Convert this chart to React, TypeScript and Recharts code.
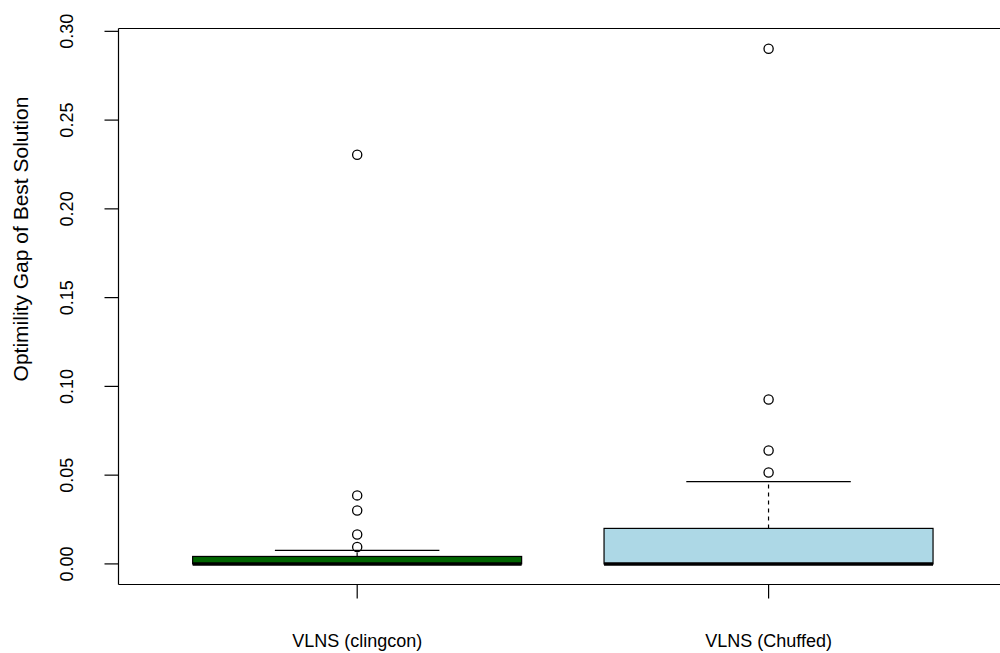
import React from "react";
import { ComposedChart, Bar, Line, XAxis, YAxis } from "recharts";

// group labels
const categories = ["VLNS (clingcon)", "VLNS (Chuffed)"];

// box statistics per group
const lowerWhisker = [0, 0];
const lowerQuartile = [0, 0];
const medians = [0, 0];
const upperQuartile = [0.0042, 0.02];
const upperWhisker = [0.0076, 0.0464];

// points beyond the whiskers
const clingconOutliers = [0.2305, 0.0386, 0.0301, 0.0166, 0.0095];
const chuffedOutliers = [0.2902, 0.0926, 0.0639, 0.0515];
const outliers = [clingconOutliers, chuffedOutliers];

const yTicks = [0, 0.05, 0.1, 0.15, 0.2, 0.25, 0.3];

const boxFills = ["#006400", "#ADD8E6"];
const FONT = "'Liberation Sans', Arial, Helvetica, sans-serif";

const maxOut = Math.max(...outliers.map((o) => o.length));
const outKeys = Array.from({ length: maxOut }, (_, i) => `o${i}`);

const data = categories.map((name, i) => {
  const row: any = {
    name,
    idx: i,
    lo: lowerWhisker[i],
    q1: lowerQuartile[i],
    med: medians[i],
    q3: upperQuartile[i],
    hi: upperWhisker[i],
    span: [
      Math.min(lowerWhisker[i], ...outliers[i]),
      Math.max(upperWhisker[i], ...outliers[i]),
    ],
  };
  outKeys.forEach((k, j) => {
    row[k] = outliers[i][j] ?? null;
  });
  return row;
});

function BoxShape(props: any) {
  const { x, y, width, height, payload } = props;
  const [lo, hi] = payload.span;
  const k = height / (hi - lo);
  const py = (v: number) => y + (hi - v) * k;
  const cx = x + width / 2;
  const cap = width / 4;
  return (
    <g>
      <line x1={cx} x2={cx} y1={py(payload.q3)} y2={py(payload.hi)} stroke="#000" strokeWidth={1.2} strokeDasharray="4 4" />
      <line x1={cx} x2={cx} y1={py(payload.q1)} y2={py(payload.lo)} stroke="#000" strokeWidth={1.2} strokeDasharray="4 4" />
      <line x1={cx - cap} x2={cx + cap} y1={py(payload.hi)} y2={py(payload.hi)} stroke="#000" strokeWidth={1.2} />
      <line x1={cx - cap} x2={cx + cap} y1={py(payload.lo)} y2={py(payload.lo)} stroke="#000" strokeWidth={1.2} />
      <rect
        x={x}
        y={py(payload.q3)}
        width={width}
        height={py(payload.q1) - py(payload.q3)}
        fill={boxFills[payload.idx]}
        stroke="#000"
        strokeWidth={1.2}
      />
      <line x1={x} x2={x + width} y1={py(payload.med)} y2={py(payload.med)} stroke="#000" strokeWidth={3.5} />
    </g>
  );
}

function YTick(props: any) {
  const { x, y, payload } = props;
  const tx = x - 35;
  return (
    <text
      x={tx}
      y={y}
      transform={`rotate(-90 ${tx} ${y})`}
      textAnchor="middle"
      dominantBaseline="central"
      fontFamily={FONT}
      fontSize={18}
      fill="#000"
    >
      {payload.value.toFixed(2)}
    </text>
  );
}

function XTick(props: any) {
  const { x, y, payload } = props;
  return (
    <text x={x} y={y + 46} textAnchor="middle" fontFamily={FONT} fontSize={18} fill="#000">
      {payload.value}
    </text>
  );
}

export default function App() {
  return (
    <div
      style={{
        position: "absolute",
        left: 0,
        top: 0,
        width: 1000,
        height: 653,
        overflow: "hidden",
        background: "#fff",
      }}
    >
      <ComposedChart
        width={1020}
        height={653}
        data={data}
        margin={{ top: 27.5, right: 12.7, bottom: 0, left: 0 }}
      >
        <XAxis
          xAxisId="b"
          dataKey="name"
          type="category"
          height={68.5}
          padding={{ left: 33, right: 33 }}
          interval={0}
          tickSize={14}
          tick={<XTick />}
          axisLine={{ stroke: "#000", strokeWidth: 1.2 }}
          tickLine={{ stroke: "#000", strokeWidth: 1.2 }}
        />
        <XAxis
          xAxisId="t"
          dataKey="name"
          orientation="top"
          height={1}
          tick={false}
          tickLine={false}
          axisLine={{ stroke: "#000", strokeWidth: 1.2 }}
        />
        <YAxis
          yAxisId="l"
          width={118.5}
          type="number"
          domain={[-0.0116, 0.3016]}
          allowDataOverflow
          ticks={yTicks}
          interval={0}
          tickSize={14}
          tick={<YTick />}
          axisLine={{ stroke: "#000", strokeWidth: 1.2 }}
          tickLine={{ stroke: "#000", strokeWidth: 1.2 }}
        />
        <Bar
          xAxisId="b"
          yAxisId="l"
          dataKey="span"
          shape={BoxShape}
          isAnimationActive={false}
        />
        {outKeys.map((k) => (
          <Line
            key={k}
            xAxisId="b"
            yAxisId="l"
            dataKey={k}
            stroke="none"
            dot={{ r: 4.6, fill: "none", stroke: "#000", strokeWidth: 1.3 }}
            activeDot={false}
            isAnimationActive={false}
          />
        ))}
      </ComposedChart>
      <div
        style={{
          position: "absolute",
          left: 21,
          top: 239,
          transform: "translate(-50%, -50%) rotate(-90deg)",
          whiteSpace: "nowrap",
          fontFamily: FONT,
          fontSize: 21,
          color: "#000",
        }}
      >
        Optimility Gap of Best Solution
      </div>
    </div>
  );
}
